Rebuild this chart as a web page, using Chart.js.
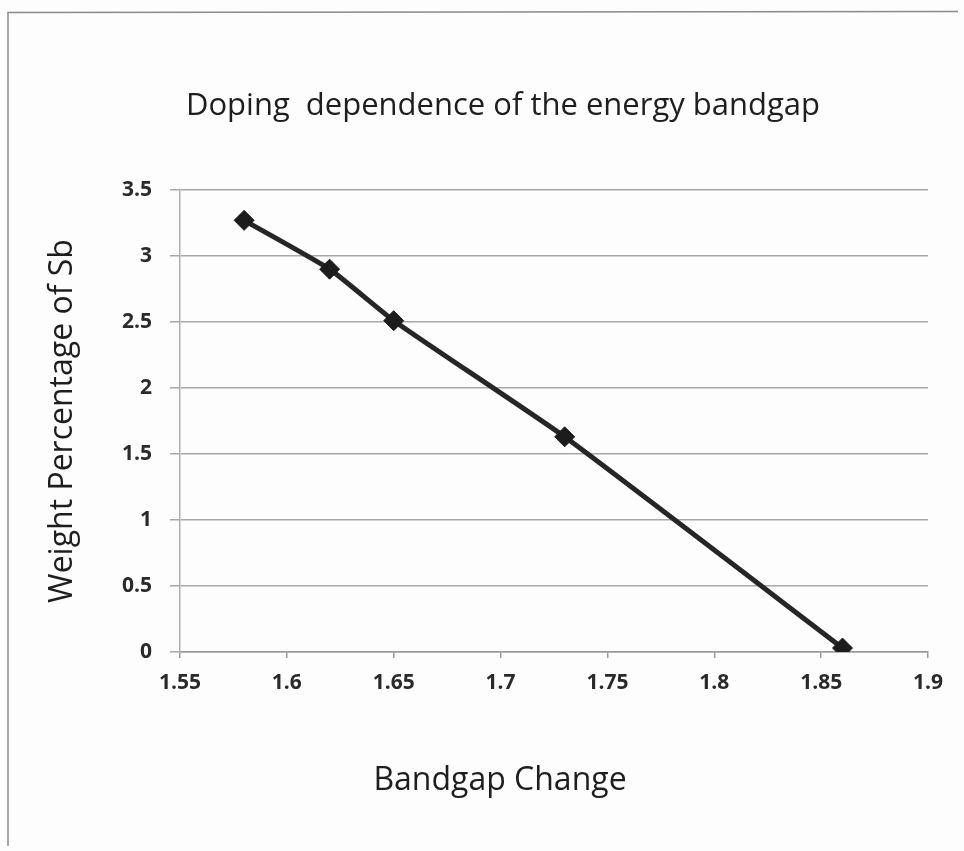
<!DOCTYPE html>
<html>
<head>
<meta charset="utf-8">
<title>Doping dependence of the energy bandgap</title>
<script src="https://cdn.jsdelivr.net/npm/chart.js@4.4.1/dist/chart.umd.min.js"></script>
<style>
  html, body { margin: 0; padding: 0; background: #fdfdfd; }
  #wrap { position: relative; width: 964px; height: 851px; }
</style>
</head>
<body>
<div id="wrap"><canvas id="bandgapChart" width="964" height="851"></canvas></div>
<script>
// Bandgap (eV) against Sb weight percentage
const bandgap = [1.58, 1.62, 1.65, 1.73, 1.86];
const weightSb = [3.27, 2.90, 2.51, 1.63, 0.03];
const xTicks = [1.55, 1.6, 1.65, 1.7, 1.75, 1.8, 1.85, 1.9];

const chartTitle = 'Doping  dependence of the energy bandgap';
const xTitle = 'Bandgap Change';
const yTitle = 'Weight Percentage of Sb';

const fontFamily = "'Open Sans', 'Noto Sans', sans-serif";

// titles and the thin frame drawn straight on the canvas
const frameAndTitles = {
    id: 'frameAndTitles',
    beforeDraw(chart) {
        const c = chart.ctx;
        c.save();
        c.fillStyle = '#fdfdfd';
        c.fillRect(0, 0, chart.width, chart.height);
        c.strokeStyle = '#8a8a8a';
        c.lineWidth = 1.5;
        c.beginPath();
        c.moveTo(8, 846);
        c.lineTo(8, 12.5);
        c.lineTo(958, 11.5);
        c.stroke();
        c.restore();
    },
    afterDraw(chart) {
        const c = chart.ctx;
        c.save();
        c.fillStyle = '#1e1e1e';
        c.textAlign = 'center';
        c.textBaseline = 'middle';
        c.font = '31px ' + fontFamily;
        c.fillText(chartTitle, 503, 106);
        c.font = '32px ' + fontFamily;
        c.fillText(xTitle, 500, 781);
        c.restore();
    }
};

const ctx = document.getElementById('bandgapChart');

new Chart(ctx, {
    type: 'scatter',
    data: {
        datasets: [{
            data: bandgap.map((x, i) => ({ x: x, y: weightSb[i] })),
            showLine: true,
            tension: 0.15,
            borderColor: '#262626',
            borderWidth: 5,
            pointStyle: 'rectRot',
            pointRadius: 10,
            pointHoverRadius: 10,
            pointBackgroundColor: '#1c1c1c',
            pointBorderColor: '#1c1c1c',
            pointBorderWidth: 1
        }]
    },
    options: {
        responsive: false,
        animation: false,
        layout: {
            padding: { left: 0, right: 36, top: 190, bottom: 0 }
        },
        plugins: {
            legend: { display: false },
            tooltip: { enabled: false },
            title: { display: false }
        },
        scales: {
            x: {
                type: 'linear',
                min: 1.55,
                max: 1.9,
                afterFit(scale) { scale.height = 851 - 652; },
                afterBuildTicks(scale) {
                    scale.ticks = xTicks.map(v => ({ value: v }));
                },
                grid: {
                    display: true,
                    drawOnChartArea: false,
                    drawTicks: true,
                    tickLength: 6,
                    color: '#9a9a9a',
                    lineWidth: 1.5
                },
                border: { display: true, color: '#9a9a9a', width: 1.5 },
                ticks: {
                    color: '#2a2a2a',
                    padding: 12,
                    font: { family: fontFamily, size: 21, weight: 'bold' },
                    callback: v => String(+v.toFixed(2))
                }
            },
            y: {
                min: 0,
                max: 3.5,
                afterFit(scale) { scale.width = 180; },
                ticks: {
                    stepSize: 0.5,
                    color: '#2a2a2a',
                    padding: 18,
                    font: { family: fontFamily, size: 21, weight: 'bold' },
                    callback: v => String(v)
                },
                grid: {
                    color: '#a8a8a8',
                    lineWidth: 1.5,
                    tickLength: 10
                },
                border: { display: true, color: '#b0b0b0', width: 1.5 },
                title: {
                    display: true,
                    text: yTitle,
                    color: '#1e1e1e',
                    font: { family: fontFamily, size: 32 },
                    padding: { top: 44, bottom: 0 }
                }
            }
        }
    },
    plugins: [frameAndTitles]
});
</script>
</body>
</html>
